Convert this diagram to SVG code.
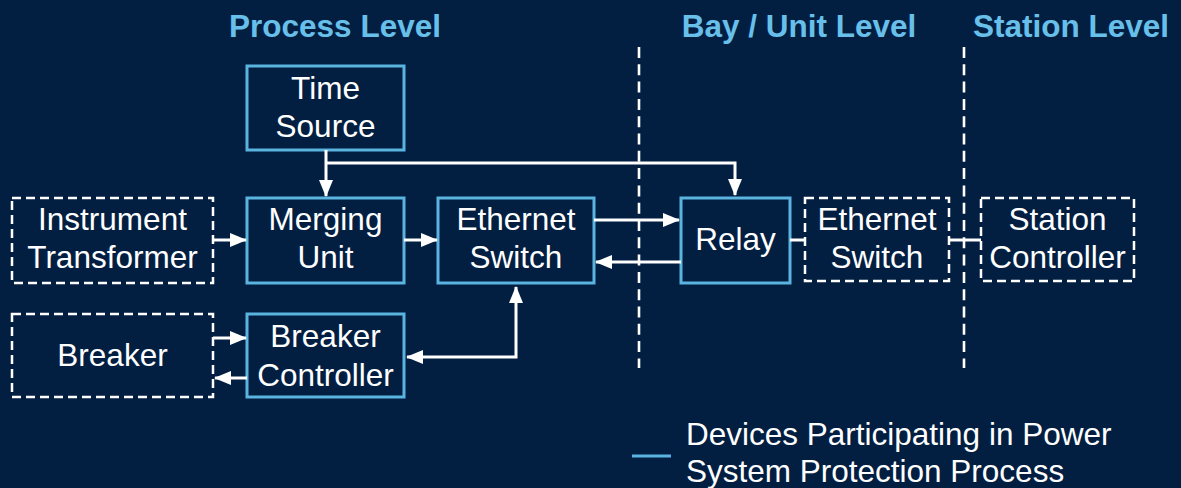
<svg xmlns="http://www.w3.org/2000/svg" width="1181" height="488" viewBox="0 0 1181 488">
  <style>
    .bg { fill: #021f42; }
    .level { font-family: "Liberation Sans", Arial, sans-serif; font-size: 31.5px; font-weight: bold; fill: #68c0ea; text-anchor: middle; }
    .lbl { font-family: "Liberation Sans", Arial, sans-serif; font-size: 31.5px; fill: #ffffff; text-anchor: middle; }
    .legend { font-family: "Liberation Sans", Arial, sans-serif; font-size: 31.5px; fill: #ffffff; }
    .dev { fill: none; stroke: #5ab4df; stroke-width: 3; }
    .ext { fill: none; stroke: #ffffff; stroke-width: 2.5; stroke-dasharray: 9 5; }
    .divider { stroke: #ffffff; stroke-width: 2.6; stroke-dasharray: 11 6.3; }
    .wire { fill: none; stroke: #ffffff; stroke-width: 3; }
    .arrow { marker-end: url(#head); }
    .both { marker-start: url(#head); marker-end: url(#head); }
  </style>
  <defs>
    <marker id="head" markerUnits="userSpaceOnUse" markerWidth="17" markerHeight="14" refX="16" refY="7" orient="auto-start-reverse">
      <path d="M0,0 L17,7 L0,14 z" fill="#ffffff"/>
    </marker>
  </defs>

  <rect class="bg" x="0" y="0" width="1181" height="488"/>

  <!-- level headings -->
  <text class="level" x="335" y="37">Process Level</text>
  <text class="level" x="799" y="37">Bay / Unit Level</text>
  <text class="level" x="1071" y="37">Station Level</text>

  <!-- level dividers -->
  <line class="divider" x1="639" y1="47" x2="639" y2="368"/>
  <line class="divider" x1="964" y1="47" x2="964" y2="368"/>

  <g id="time-source">
    <rect class="dev" x="247" y="66" width="157" height="84"/>
    <text class="lbl" x="325.5" y="99">Time</text>
    <text class="lbl" x="325.5" y="137">Source</text>
  </g>

  <g id="instrument-transformer">
    <rect class="ext" x="12" y="198" width="201" height="85"/>
    <text class="lbl" x="112.5" y="230">Instrument</text>
    <text class="lbl" x="112.5" y="268">Transformer</text>
  </g>

  <g id="merging-unit">
    <rect class="dev" x="247" y="198" width="157" height="85"/>
    <text class="lbl" x="325.5" y="230">Merging</text>
    <text class="lbl" x="325.5" y="268">Unit</text>
  </g>

  <g id="ethernet-switch">
    <rect class="dev" x="438" y="198" width="156" height="85"/>
    <text class="lbl" x="516" y="230">Ethernet</text>
    <text class="lbl" x="516" y="268">Switch</text>
  </g>

  <g id="relay">
    <rect class="dev" x="681" y="198" width="109" height="85"/>
    <text class="lbl" x="735.5" y="250">Relay</text>
  </g>

  <g id="station-ethernet-switch">
    <rect class="ext" x="805" y="198" width="144" height="83"/>
    <text class="lbl" x="877" y="230">Ethernet</text>
    <text class="lbl" x="877" y="268">Switch</text>
  </g>

  <g id="station-controller">
    <rect class="ext" x="981" y="198" width="153" height="83"/>
    <text class="lbl" x="1057.5" y="230">Station</text>
    <text class="lbl" x="1057.5" y="268">Controller</text>
  </g>

  <g id="breaker">
    <rect class="ext" x="12" y="314" width="201" height="83"/>
    <text class="lbl" x="112.5" y="366">Breaker</text>
  </g>

  <g id="breaker-controller">
    <rect class="dev" x="247" y="314" width="157" height="83"/>
    <text class="lbl" x="325.5" y="347">Breaker</text>
    <text class="lbl" x="325.5" y="386">Controller</text>
  </g>

  <g id="connectors">
    <!-- time distribution -->
    <line class="wire arrow" x1="326" y1="150" x2="326" y2="196"/>
    <polyline class="wire arrow" points="326,163 735,163 735,195"/>
    <!-- sampled values path -->
    <line class="wire arrow" x1="213" y1="240" x2="246" y2="240"/>
    <line class="wire arrow" x1="404" y1="240" x2="437" y2="240"/>
    <line class="wire arrow" x1="594" y1="220" x2="679" y2="220"/>
    <line class="wire arrow" x1="681" y1="262" x2="596" y2="262"/>
    <!-- trip / status path -->
    <polyline class="wire both" points="407,357 516,357 516,287"/>
    <line class="wire arrow" x1="213" y1="338" x2="246" y2="338"/>
    <line class="wire arrow" x1="247" y1="378" x2="215" y2="378"/>
    <!-- station bus -->
    <line class="wire" x1="790" y1="240" x2="805" y2="240"/>
    <line class="wire" x1="949" y1="240" x2="981" y2="240"/>
  </g>

  <g id="legend">
    <line x1="632" y1="456" x2="671" y2="456" stroke="#5ab4df" stroke-width="3"/>
    <text class="legend" x="686" y="445">Devices Participating in Power</text>
    <text class="legend" x="686" y="482">System Protection Process</text>
  </g>
</svg>
